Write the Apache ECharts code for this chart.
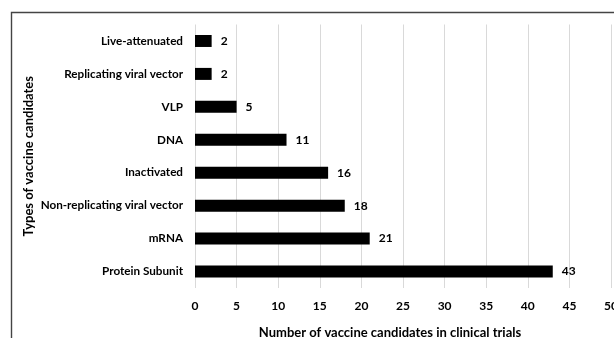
<!DOCTYPE html>
<html>
<head>
<meta charset="utf-8">
<script src="https://cdn.jsdelivr.net/npm/echarts@6/dist/echarts.min.js"></script>
<style>
  html, body { margin: 0; padding: 0; background: #fff; }
  #chart { width: 614px; height: 338px; }
</style>
</head>
<body>
<div id="chart"></div>
<script>
// Vaccine platform types, listed bottom to top as drawn on the category axis
const categories = [
  'Protein Subunit',
  'mRNA',
  'Non-replicating viral vector',
  'Inactivated',
  'DNA',
  'VLP',
  'Replicating viral vector',
  'Live-attenuated'
];
const candidateCounts = [43, 21, 18, 16, 11, 5, 2, 2];
const xTicks = [0, 5, 10, 15, 20, 25, 30, 35, 40, 45, 50];

const FONT = 'Lato';
const chart = echarts.init(document.getElementById('chart'));

chart.setOption({
  animation: false,
  backgroundColor: '#ffffff',
  graphic: [{
    type: 'rect',
    shape: { x: 11.5, y: 12.5, width: 700, height: 400 },
    style: { fill: 'none', stroke: '#444', lineWidth: 1.4 },
    silent: true,
    z: -1
  }],
  grid: {
    left: 195, right: 3, top: 24.5, bottom: 50,
    containLabel: false,
    outerBoundsMode: 'none'
  },
  xAxis: {
    type: 'value',
    min: xTicks[0],
    max: xTicks[xTicks.length - 1],
    interval: xTicks[1] - xTicks[0],
    axisLine: { show: false },
    axisTick: { show: false },
    splitLine: { show: true, lineStyle: { color: '#d9d9d9', width: 1 } },
    axisLabel: {
      margin: 12,
      color: '#000',
      fontFamily: FONT,
      fontWeight: 'bold',
      fontSize: 12
    },
    name: 'Number of vaccine candidates in clinical trials',
    nameLocation: 'middle',
    nameGap: 38,
    nameMoveOverlap: false,
    nameTextStyle: {
      color: '#000',
      fontFamily: FONT,
      fontWeight: 'bold',
      fontSize: 13,
      padding: [0, 26, 0, 0]
    }
  },
  yAxis: {
    type: 'category',
    data: categories,
    axisLine: { show: false },
    axisTick: { show: false },
    splitLine: { show: false },
    axisLabel: {
      margin: 12,
      color: '#000',
      fontFamily: FONT,
      fontWeight: 'bold',
      fontSize: 11.7
    },
    name: 'Types of vaccine candidates',
    nameLocation: 'middle',
    nameGap: 160,
    nameMoveOverlap: false,
    nameRotate: 90,
    nameTextStyle: {
      color: '#000',
      fontFamily: FONT,
      fontWeight: 'bold',
      fontSize: 13
    }
  },
  series: [{
    type: 'bar',
    data: candidateCounts,
    barWidth: 12,
    itemStyle: { color: '#000000' },
    label: {
      show: true,
      position: 'right',
      distance: 9,
      color: '#000',
      fontFamily: FONT,
      fontWeight: 'bold',
      fontSize: 12
    }
  }]
});
</script>
</body>
</html>
